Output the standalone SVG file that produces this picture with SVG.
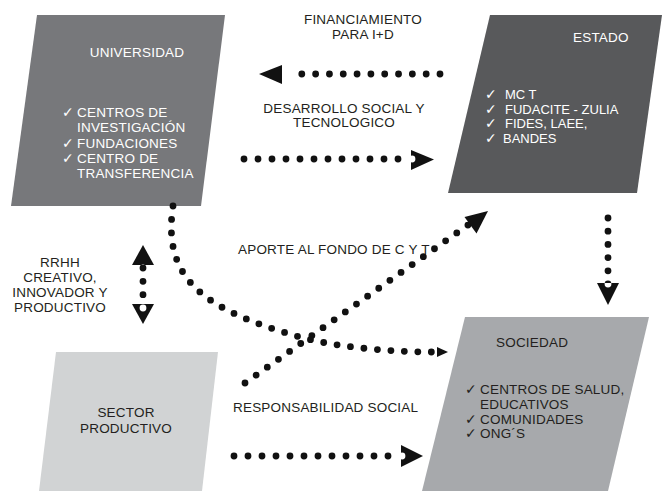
<svg xmlns="http://www.w3.org/2000/svg" width="664" height="491" viewBox="0 0 664 491">
<style>
text{font-family:"Liberation Sans",Arial,"DejaVu Sans",sans-serif;font-size:13.5px;letter-spacing:0.2px}
.w{fill:#ffffff}
.k{fill:#231f20}
.m{text-anchor:middle}
.s13{font-size:13px;letter-spacing:0}
.ck{font-family:"DejaVu Sans",sans-serif;font-size:14px;letter-spacing:0}
.dot{fill:none;stroke:#111;stroke-width:6.8;stroke-linecap:round}
.ah{fill:#111}
</style>
<defs>
<clipPath id="c2"><polygon points="411,150 434,159.5 411,170"/></clipPath>
<clipPath id="c3"><polygon points="401,445 423,456 401,467"/></clipPath>
<clipPath id="c4"><polygon points="597,283 619,283 608,305"/></clipPath>
<clipPath id="c5a"><polygon points="143,245 132,265 154,265"/></clipPath>
<clipPath id="c5b"><polygon points="132,304 154,304 143,324"/></clipPath>
</defs>
<rect width="664" height="491" fill="#ffffff"/>

<g id="universidad">
<polygon points="37,15 225,15 201,206 11,206" fill="#77787b"/>
<text class="w m" x="137" y="57">UNIVERSIDAD</text>
<text class="w ck" x="62" y="117">✓</text>
<text class="w" x="77" y="117">CENTROS DE</text>
<text class="w" x="77" y="132">INVESTIGACIÓN</text>
<text class="w ck" x="62" y="147.5">✓</text>
<text class="w" x="77" y="147.5">FUNDACIONES</text>
<text class="w ck" x="62" y="163">✓</text>
<text class="w" x="77" y="163">CENTRO DE</text>
<text class="w" x="77" y="178">TRANSFERENCIA</text>
</g>

<g id="estado">
<polygon points="490,15 662,15 637,193 448,193" fill="#58595b"/>
<text class="w" x="573" y="42">ESTADO</text>
<text class="w ck" x="485" y="99">✓</text>
<text class="w s13" x="505" y="99">MC T</text>
<text class="w ck" x="485" y="113.5">✓</text>
<text class="w s13" x="505" y="113.5">FUDACITE - ZULIA</text>
<text class="w ck" x="485" y="128">✓</text>
<text class="w s13" x="505" y="128">FIDES, LAEE,</text>
<text class="w ck" x="485" y="142.5">✓</text>
<text class="w s13" x="503" y="142.5">BANDES</text>
</g>

<g id="sociedad">
<polygon points="465,317 649,317 608,491 422,491" fill="#a7a9ac"/>
<text class="k" x="496" y="347">SOCIEDAD</text>
<text class="k ck" x="465" y="394">✓</text>
<text class="k" x="480" y="394">CENTROS DE SALUD,</text>
<text class="k" x="480" y="409">EDUCATIVOS</text>
<text class="k ck" x="465" y="423.5">✓</text>
<text class="k" x="480" y="423.5">COMUNIDADES</text>
<text class="k ck" x="465" y="438">✓</text>
<text class="k" x="480" y="438">ONG´S</text>
</g>

<g id="sector-productivo">
<polygon points="56,352 218,352 202,491 39,491" fill="#d1d3d4"/>
<text class="k m" x="126" y="417">SECTOR</text>
<text class="k m" x="126" y="433">PRODUCTIVO</text>
</g>

<g id="labels">
<text class="k m" x="363" y="24">FINANCIAMIENTO</text>
<text class="k m" x="363" y="39">PARA I+D</text>
<text class="k m" x="344" y="113">DESARROLLO SOCIAL Y</text>
<text class="k m" x="344" y="127">TECNOLOGICO</text>
<text class="k" x="238" y="254">APORTE AL FONDO DE C Y T</text>
<text class="k" x="233" y="412">RESPONSABILIDAD SOCIAL</text>
<text class="k m" x="60" y="267">RRHH</text>
<text class="k m" x="60" y="282">CREATIVO,</text>
<text class="k m" x="60" y="297">INNOVADOR Y</text>
<text class="k m" x="60" y="312">PRODUCTIVO</text>
</g>

<g id="connectors">
<g id="financiamiento">
<path class="dot" d="M440,74 H288" stroke-dasharray="0 13.82"/>
<polygon class="ah" points="259,74 282,65 282,84"/>
</g>
<g id="desarrollo">
<path class="dot" d="M244,159 H412" stroke-dasharray="0 14"/>
<polygon class="ah" points="411,150 434,159.5 411,170"/>
<circle cx="412" cy="159" r="3.4" fill="#fff" clip-path="url(#c2)"/>
</g>
<g id="responsabilidad">
<path class="dot" d="M234,456 H402" stroke-dasharray="0 14"/>
<polygon class="ah" points="401,445 423,456 401,467"/>
<circle cx="402" cy="456" r="3.4" fill="#fff" clip-path="url(#c3)"/>
</g>
<g id="estado-sociedad">
<path class="dot" d="M608,218 V284" stroke-dasharray="0 13.2"/>
<polygon class="ah" points="597,283 619,283 608,305"/>
<circle cx="608" cy="284" r="3.4" fill="#fff" clip-path="url(#c4)"/>
</g>
<g id="rrhh">
<path class="dot" d="M143,268 V308" stroke-dasharray="0 13.33"/>
<polygon class="ah" points="143,245 132,265 154,265"/>
<circle cx="143" cy="268" r="3.4" fill="#fff" clip-path="url(#c5a)"/>
<polygon class="ah" points="132,304 154,304 143,324"/>
<circle cx="143" cy="308" r="3.4" fill="#fff" clip-path="url(#c5b)"/>
</g>
<g id="aporte">
<path class="dot" d="M245,383 L468,225" stroke-dasharray="0 13.66"/>
<polygon class="ah" points="488,211 464.5,217 476.5,233.5"/>
</g>
<g id="universidad-sociedad">
<path class="dot" d="M173,206 C162,280 205,310 300,337 C340,348.4 400,352 432,352" stroke-dasharray="0 13.5"/>
<polygon class="ah" points="437,347 448,352 437,357"/>
</g>
</g>
</svg>
